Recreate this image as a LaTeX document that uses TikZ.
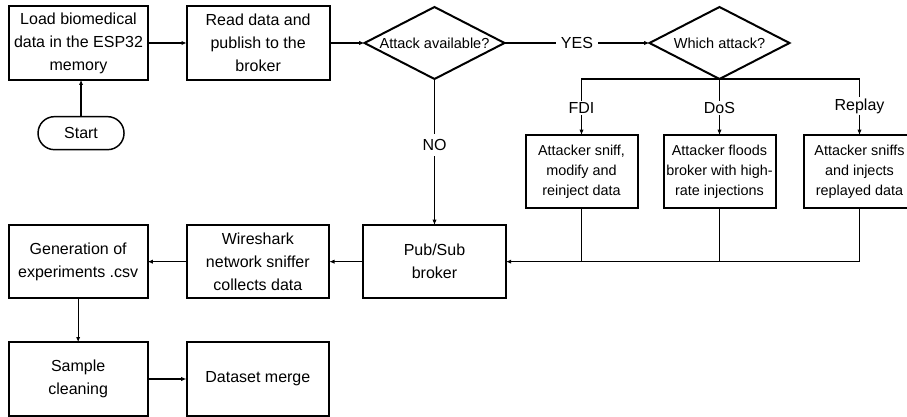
\documentclass[tikz,border=0pt]{standalone}
\usepackage{fontspec}
\setmainfont{Liberation Sans}
\usepackage{tikz}
\usetikzlibrary{arrows.meta,shapes,positioning,calc}

\begin{document}
\begin{tikzpicture}[
    >={Latex[length=4pt,width=3.2pt]},
    node distance=29.25pt,
    every node/.style={outer sep=0pt},
    process/.style={
        draw,
        line width=1.5pt,
        align=center,
        minimum width=104pt,
        minimum height=55pt,
        inner sep=1.5pt,
        font=\fontsize{12}{17.3}\selectfont
    },
    wideprocess/.style={process, minimum width=107pt},
    attack/.style={process, minimum width=84pt, minimum height=54.5pt,
        inner sep=1pt, font=\fontsize{10.8}{15}\selectfont},
    decision/.style={
        draw,
        diamond,
        line width=1.5pt,
        aspect=1.94,
        inner sep=0pt,
        minimum width=105pt,
        minimum height=54pt,
        font=\fontsize{10.9}{13}\selectfont
    },
    terminal/.style={
        draw,
        line width=1.1pt,
        rounded corners=12.3pt,
        minimum width=64.5pt,
        minimum height=24.75pt,
        font=\fontsize{12}{15}\selectfont
    },
    branch/.style={font=\fontsize{12}{15}\selectfont, inner sep=1pt},
    flow/.style={->, line width=0.9pt},
    link/.style={line width=0.9pt}
]

% bounding box: 907 x 417 px at 0.75pt per px
\useasboundingbox (-58.875pt,32.25pt) rectangle (621.375pt,-280.5pt);

% top row
\node[process] (load) {Load biomedical\\data in the ESP32\\memory};
\node[wideprocess, right=29.25pt of load] (read) {Read data and\\publish to the\\broker};
\node[decision, right=26.25pt of read] (available) {Attack available?};
\node[decision, right=108.75pt of available] (which) {Which attack?};
\node[terminal, below=27.75pt of load, xshift=1.9pt] (start) {Start};

% attacks
\node[attack, below=42pt of which] (dos) {Attacker floods\\broker with high-\\rate injections};
\node[attack, left=19.5pt of dos] (fdi) {Attacker sniff,\\modify and\\reinject data};
\node[attack, right=21pt of dos] (replay) {Attacker sniffs\\and injects\\replayed data};
\node[branch, above=15pt of fdi] (fdilbl) {FDI};
\node[branch, above=15pt of dos] (doslbl) {DoS};
\node[branch, above=15pt of replay] (replaylbl) {Replay};

% broker and output chain
\node[wideprocess, below=109.5pt of available] (broker) {Pub/Sub\\broker};
\node[wideprocess, left=25.5pt of broker] (sniffer) {Wireshark\\network sniffer\\collects data};
\node[process, left=29.25pt of sniffer] (csv) {Generation of\\experiments .csv};
\node[process, below=33pt of csv] (cleaning) {Sample\\cleaning};
\node[wideprocess, right=29.25pt of cleaning] (merge) {Dataset merge};

\draw[flow] (start) -- (start |- load.south);
\draw[flow] (load) -- (read);
\draw[flow] (read) -- (available);
\draw[flow] (available) -- node[fill=white, branch, inner sep=4pt] {YES} (which);
\draw[flow] (available) -- node[fill=white, branch, inner sep=4pt, pos=0.45] {NO} (broker);

\draw[link] (fdilbl.north) |- (which.south) -| (replaylbl.north);
\draw[link] (which.south) -- (doslbl.north);
\draw[flow] (fdilbl) -- (fdi);
\draw[flow] (doslbl) -- (dos);
\draw[flow] (replaylbl) -- (replay);

\draw[link] (fdi.south) -- (fdi.south |- broker.east);
\draw[link] (dos.south) -- (dos.south |- broker.east);
\draw[flow] (replay.south) |- (broker.east);

\draw[flow] (broker) -- (sniffer);
\draw[flow] (sniffer) -- (csv);
\draw[flow] (csv) -- (cleaning);
\draw[flow] (cleaning) -- (merge);

\end{tikzpicture}
\end{document}
